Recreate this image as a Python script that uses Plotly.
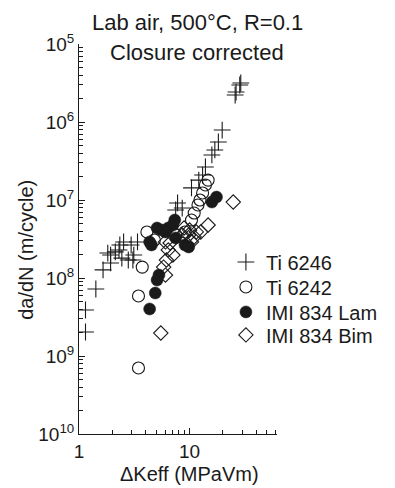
import plotly.graph_objects as go

# ---- data ----
ti6246_dk = [1.145, 1.145, 1.42, 1.65, 1.82, 1.93, 1.93, 2.13, 2.30, 2.34, 2.53, 2.44, 2.79,
             2.96, 3.07, 3.13, 3.38, 7.48, 7.78, 8.57, 10.4, 12.1, 13.1, 13.9, 15.9, 16.9,
             18.2, 19.7, 25.8, 26.3, 28.4, 29.0]
ti6246_dadn = [2.03e-9, 3.89e-9, 7.23e-9, 1.27e-8, 2.09e-8, 1.56e-8, 1.97e-8, 2.16e-8, 2.29e-8,
               2.65e-8, 2.90e-8, 1.80e-8, 1.70e-8, 2.65e-8, 1.70e-8, 1.97e-8, 2.90e-8, 7.44e-8,
               9.16e-8, 7.89e-8, 1.43e-7, 1.80e-7, 2.09e-7, 2.65e-7, 3.78e-7, 4.38e-7, 5.54e-7,
               7.89e-7, 2.22e-6, 2.42e-6, 2.98e-6, 3.16e-6]

ti6242_dk = [3.45, 3.45, 3.73, 4.11, 4.80, 7.48, 9.08, 10.4, 11.0, 11.9, 12.4, 13.1, 13.9, 14.7]
ti6242_dadn = [7.02e-10, 5.88e-9, 1.38e-8, 3.89e-8, 3.07e-8, 3.56e-8, 3.89e-8, 5.54e-8, 6.81e-8,
               8.63e-8, 1.0e-7, 1.23e-7, 1.56e-7, 1.80e-7]

lam_dk = [4.35, 4.89, 5.08, 5.28, 4.35, 4.52, 5.08, 5.60, 6.05, 6.41, 7.06, 7.34, 7.48, 9.08,
          9.81, 15.9, 17.5]
lam_dadn = [4.01e-9, 6.42e-9, 9.42e-9, 1.09e-8, 2.90e-8, 2.65e-8, 4.38e-8, 4.12e-8, 3.89e-8,
            4.38e-8, 4.78e-8, 5.54e-8, 3.26e-8, 2.65e-8, 2.50e-8, 9.42e-8, 1.09e-7]

bim_dk = [5.49, 5.82, 6.05, 6.17, 6.66, 7.06, 6.05, 6.41, 8.57, 8.91, 9.81, 10.0, 10.4, 11.0,
          11.5, 12.6, 14.7, 24.8]
bim_dadn = [1.97e-9, 1.38e-8, 1.09e-8, 1.70e-8, 2.81e-8, 1.97e-8, 2.90e-8, 2.29e-8, 3.56e-8,
            4.38e-8, 3.56e-8, 4.12e-8, 2.90e-8, 3.36e-8, 3.89e-8, 3.89e-8, 4.78e-8, 9.42e-8]

x_tickvals = [1, 10]
x_ticktext = ["1", "10"]
y_tickvals = [1e-10, 1e-9, 1e-8, 1e-7, 1e-6, 1e-5]
y_ticktext = ["10<sup>10</sup>", "10<sup>9</sup>", "10<sup>8</sup>",
              "10<sup>7</sup>", "10<sup>6</sup>", "10<sup>5</sup>"]

FONT = "Liberation Sans, Arial, sans-serif"
INK = "#1a1a1a"

fig = go.Figure()
fig.add_trace(go.Scatter(x=ti6246_dk, y=ti6246_dadn, mode="markers", name="Ti 6246",
                         legend="legend",
                         marker=dict(symbol="cross-thin-open", size=12, color=INK,
                                     line=dict(width=1.1, color=INK))))
fig.add_trace(go.Scatter(x=ti6242_dk, y=ti6242_dadn, mode="markers", name="Ti 6242",
                         legend="legend2",
                         marker=dict(symbol="circle-open", size=12, color=INK,
                                     line=dict(width=1.1, color=INK))))
fig.add_trace(go.Scatter(x=lam_dk, y=lam_dadn, mode="markers", name="IMI 834 Lam",
                         legend="legend3",
                         marker=dict(symbol="circle", size=12, color=INK,
                                     line=dict(width=0.5, color=INK))))
fig.add_trace(go.Scatter(x=bim_dk, y=bim_dadn, mode="markers", name="IMI 834 Bim",
                         legend="legend4",
                         marker=dict(symbol="diamond-open", size=11, color=INK,
                                     line=dict(width=1.1, color=INK))))

minor_x = [m * 10 ** k for k in range(0, 2) for m in range(2, 10)]
minor_y = [m * 10.0 ** k for k in range(-10, -5) for m in range(2, 10)]


def leg(ypos):
    return dict(x=0.742, y=ypos, xanchor="left", yanchor="middle",
                font=dict(family=FONT, size=20, color=INK),
                bgcolor="rgba(0,0,0,0)", borderwidth=0, itemwidth=30)


fig.update_layout(
    width=395, height=488,
    margin=dict(l=79, r=103, t=44, b=54),
    paper_bgcolor="white", plot_bgcolor="white",
    font=dict(family=FONT, size=18, color=INK),
    showlegend=True,
    legend=leg(0.441), legend2=leg(0.377), legend3=leg(0.313), legend4=leg(0.254),
    xaxis=dict(type="log", range=[0, 1.79], tickmode="array", tickvals=x_tickvals,
               ticktext=x_ticktext, ticks="inside", ticklen=6, tickcolor=INK,
               showline=True, linecolor=INK, linewidth=1, showgrid=False, zeroline=False,
               tickfont=dict(size=19),
               minor=dict(tickmode="array", tickvals=minor_x, ticks="inside", ticklen=4,
                          tickcolor=INK, showgrid=False)),
    yaxis=dict(type="log", range=[-10, -5], tickmode="array", tickvals=y_tickvals,
               ticktext=y_ticktext, ticks="inside", ticklen=6, tickcolor=INK,
               showline=True, linecolor=INK, linewidth=1, showgrid=False, zeroline=False,
               tickfont=dict(size=19),
               minor=dict(tickmode="array", tickvals=minor_y, ticks="inside", ticklen=4,
                          tickcolor=INK, showgrid=False)),
    annotations=[
        dict(text="Lab air, 500°C, R=0.1", xref="paper", yref="paper", x=0.597, y=1.056,
             xanchor="center", yanchor="middle", showarrow=False,
             font=dict(family=FONT, size=22, color=INK)),
        dict(text="Closure corrected", xref="paper", yref="paper", x=0.594, y=0.979,
             xanchor="center", yanchor="middle", showarrow=False,
             font=dict(family=FONT, size=22, color=INK)),
        dict(text="ΔKeff (MPaVm)", xref="paper", yref="paper", x=0.558, y=-0.103,
             xanchor="center", yanchor="middle", showarrow=False,
             font=dict(family=FONT, size=20, color=INK)),
        dict(text="da/dN (m/cycle)", xref="paper", yref="paper", x=-0.268, y=0.472,
             xanchor="center", yanchor="middle", showarrow=False, textangle=-90,
             font=dict(family=FONT, size=20, color=INK)),
    ],
)

fig.write_html("out.html")
